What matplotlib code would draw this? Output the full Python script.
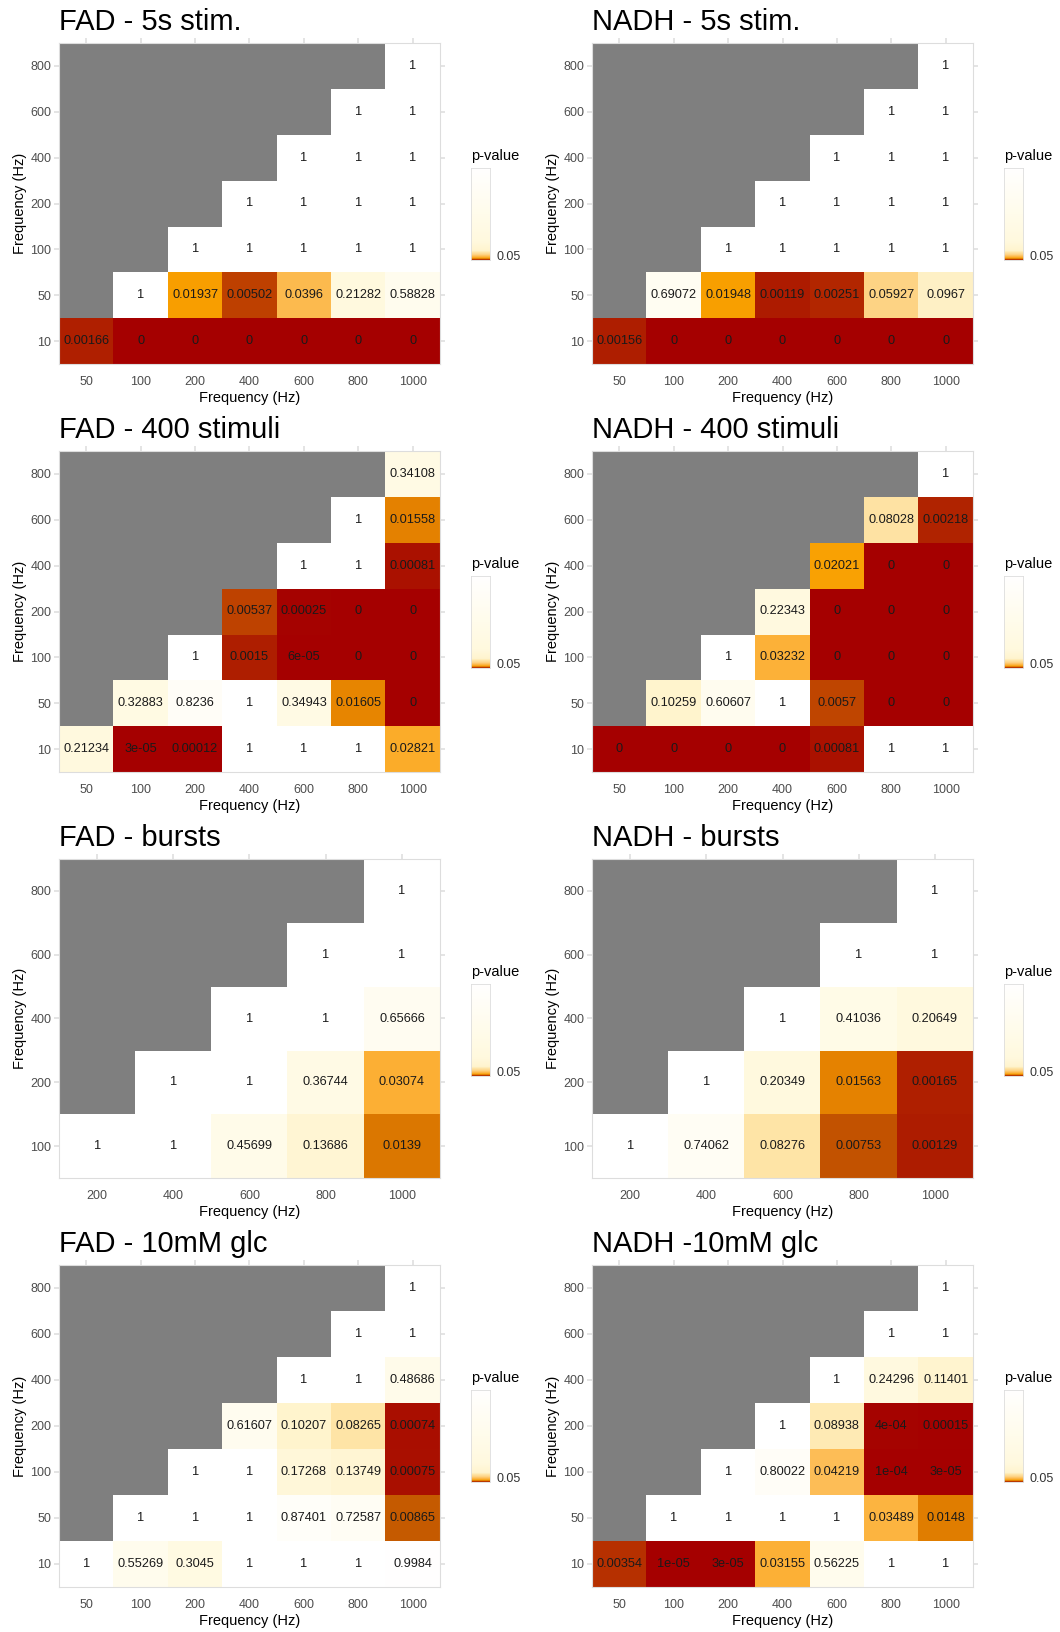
import numpy as np
import matplotlib
matplotlib.use("Agg")
import matplotlib.pyplot as plt
from matplotlib.colors import LinearSegmentedColormap, Normalize

plt.rcParams['font.family'] = ['Liberation Sans', 'DejaVu Sans']

# axis categories (Hz)
freq_x = [50, 100, 200, 400, 600, 800, 1000]
freq_y = [10, 50, 100, 200, 400, 600, 800]
burst_x = [200, 400, 600, 800, 1000]
burst_y = [100, 200, 400, 600, 800]

N = None
# p-values, rows listed from the top (800 Hz) down; None = not tested (grey)
fad_5s = [
    [N, N, N, N, N, N, 1],
    [N, N, N, N, N, 1, 1],
    [N, N, N, N, 1, 1, 1],
    [N, N, N, 1, 1, 1, 1],
    [N, N, 1, 1, 1, 1, 1],
    [N, 1, 0.01937, 0.00502, 0.0396, 0.21282, 0.58828],
    [0.00166, 0, 0, 0, 0, 0, 0],
]
nadh_5s = [
    [N, N, N, N, N, N, 1],
    [N, N, N, N, N, 1, 1],
    [N, N, N, N, 1, 1, 1],
    [N, N, N, 1, 1, 1, 1],
    [N, N, 1, 1, 1, 1, 1],
    [N, 0.69072, 0.01948, 0.00119, 0.00251, 0.05927, 0.0967],
    [0.00156, 0, 0, 0, 0, 0, 0],
]
fad_400 = [
    [N, N, N, N, N, N, 0.34108],
    [N, N, N, N, N, 1, 0.01558],
    [N, N, N, N, 1, 1, 0.00081],
    [N, N, N, 0.00537, 0.00025, 0, 0],
    [N, N, 1, 0.0015, 6e-05, 0, 0],
    [N, 0.32883, 0.8236, 1, 0.34943, 0.01605, 0],
    [0.21234, 3e-05, 0.00012, 1, 1, 1, 0.02821],
]
nadh_400 = [
    [N, N, N, N, N, N, 1],
    [N, N, N, N, N, 0.08028, 0.00218],
    [N, N, N, N, 0.02021, 0, 0],
    [N, N, N, 0.22343, 0, 0, 0],
    [N, N, 1, 0.03232, 0, 0, 0],
    [N, 0.10259, 0.60607, 1, 0.0057, 0, 0],
    [0, 0, 0, 0, 0.00081, 1, 1],
]
fad_bursts = [
    [N, N, N, N, 1],
    [N, N, N, 1, 1],
    [N, N, 1, 1, 0.65666],
    [N, 1, 1, 0.36744, 0.03074],
    [1, 1, 0.45699, 0.13686, 0.0139],
]
nadh_bursts = [
    [N, N, N, N, 1],
    [N, N, N, 1, 1],
    [N, N, 1, 0.41036, 0.20649],
    [N, 1, 0.20349, 0.01563, 0.00165],
    [1, 0.74062, 0.08276, 0.00753, 0.00129],
]
fad_glc = [
    [N, N, N, N, N, N, 1],
    [N, N, N, N, N, 1, 1],
    [N, N, N, N, 1, 1, 0.48686],
    [N, N, N, 0.61607, 0.10207, 0.08265, 0.00074],
    [N, N, 1, 1, 0.17268, 0.13749, 0.00075],
    [N, 1, 1, 1, 0.87401, 0.72587, 0.00865],
    [1, 0.55269, 0.3045, 1, 1, 1, 0.9984],
]
nadh_glc = [
    [N, N, N, N, N, N, 1],
    [N, N, N, N, N, 1, 1],
    [N, N, N, N, 1, 0.24296, 0.11401],
    [N, N, N, 1, 0.08938, 4e-04, 0.00015],
    [N, N, 1, 0.80022, 0.04219, 1e-04, 3e-05],
    [N, 1, 1, 1, 1, 0.03489, 0.0148],
    [0.00354, 1e-05, 3e-05, 0.03155, 0.56225, 1, 1],
]

panels = [
    ("FAD - 5s stim.", fad_5s, freq_x, freq_y),
    ("NADH - 5s stim.", nadh_5s, freq_x, freq_y),
    ("FAD - 400 stimuli", fad_400, freq_x, freq_y),
    ("NADH - 400 stimuli", nadh_400, freq_x, freq_y),
    ("FAD - bursts", fad_bursts, burst_x, burst_y),
    ("NADH - bursts", nadh_bursts, burst_x, burst_y),
    ("FAD - 10mM glc", fad_glc, freq_x, freq_y),
    ("NADH -10mM glc", nadh_glc, freq_x, freq_y),
]

# colour ramp in p-value space (many levels so tiny p-values get their own shade)
cmap = LinearSegmentedColormap.from_list("pval", [
    (0.0, "#A50000"), (0.0005, "#A60400"), (0.001, "#AD1A00"), (0.0025, "#B22600"),
    (0.005, "#BE4000"), (0.0086, "#C55A00"), (0.014, "#DC7800"),
    (0.0156, "#E58200"), (0.0195, "#F9A000"), (0.03, "#FCAF32"),
    (0.04, "#FDBB50"), (0.06, "#FED487"), (0.085, "#FEE6AA"),
    (0.1, "#FFF4CD"), (0.2, "#FFF9DE"), (0.5, "#FFFCEB"), (1.0, "#FFFFFF"),
], N=200000)
cmap.set_bad("#7F7F7F")
norm = Normalize(0, 1)


def r_label(v):
    # mimic R's printing of round(p, 5)
    fixed = f"{v:.5f}".rstrip('0').rstrip('.')
    if v == 0 or v >= 1e-3:
        return fixed
    digits = fixed.split('.')[1].lstrip('0')
    sci = f"{v:.{len(digits) - 1}e}"
    return sci if len(sci) < len(fixed) else fixed


W, H = 1060, 1632
fig = plt.figure(figsize=(W / 100, H / 100), dpi=100)

col_left = [59, 592]
col_right = [440, 973]
row_top = [43, 451, 859, 1265]
row_bot = [364, 772, 1178, 1587]
grid_c = "#DDDDDD"

for k, (title, rows, xs, ys) in enumerate(panels):
    r, c = divmod(k, 2)
    x0, x1, y0, y1 = col_left[c], col_right[c], row_top[r], row_bot[r]
    ax = fig.add_axes([x0 / W, 1 - y1 / H, (x1 - x0) / W, (y1 - y0) / H])
    vals = np.array([[np.nan if v is None else v for v in row] for row in rows[::-1]], dtype=float)
    ax.imshow(np.ma.masked_invalid(vals), cmap=cmap, norm=norm, aspect='auto', origin='lower',
              extent=(-0.5, len(xs) - 0.5, -0.5, len(ys) - 0.5), interpolation='nearest')
    for i in range(len(ys)):
        for j in range(len(xs)):
            if not np.isnan(vals[i, j]):
                ax.text(j, i, r_label(vals[i, j]), ha='center', va='center', fontsize=9.2, color='#1A1A1A')
    ax.set_xlim(-0.5, len(xs) - 0.5)
    ax.set_ylim(-0.5, len(ys) - 0.5)
    ax.set_xticks(range(len(xs)))
    ax.set_xticklabels([str(x) for x in xs])
    ax.set_yticks(range(len(ys)))
    ax.set_yticklabels([str(y) for y in ys])
    ax.tick_params(axis='both', colors=grid_c, labelcolor='#4D4D4D', labelsize=9, length=3.6, width=1.1)
    ax.tick_params(axis='x', bottom=False, top=True, pad=5)
    ax.tick_params(axis='y', left=True, right=True, pad=2)
    for s in ax.spines.values():
        s.set_color(grid_c)
        s.set_linewidth(0.8)
    ax.set_xlabel("Frequency (Hz)", fontsize=10.5, labelpad=2)
    ax.set_ylabel("Frequency (Hz)", fontsize=10.5, labelpad=2)
    fig.text(x0 / W, 1 - (y0 - 13) / H, title, fontsize=21, va='baseline', ha='left')

    # colour bar legend
    cb_l, cb_t, cb_w, cb_h = x1 + 31, y0 + 125, 19, 92
    cax = fig.add_axes([cb_l / W, 1 - (cb_t + cb_h) / H, cb_w / W, cb_h / H])
    grad = np.linspace(0, 1, 600).reshape(-1, 1)
    cax.imshow(grad, cmap=cmap, norm=norm, aspect='auto', origin='lower', extent=(0, 1, 0, 1))
    cax.set_xticks([])
    cax.set_yticks([0.05])
    cax.set_yticklabels(["0.05"])
    cax.yaxis.tick_right()
    cax.tick_params(axis='y', length=0, pad=5, labelsize=9, labelcolor='#333333')
    for s in cax.spines.values():
        s.set_color(grid_c)
        s.set_linewidth(0.6)
    fig.text(cb_l / W, 1 - (cb_t - 8) / H, "p-value", fontsize=10.5, va='baseline', ha='left')

fig.savefig("out.png", dpi=100)
